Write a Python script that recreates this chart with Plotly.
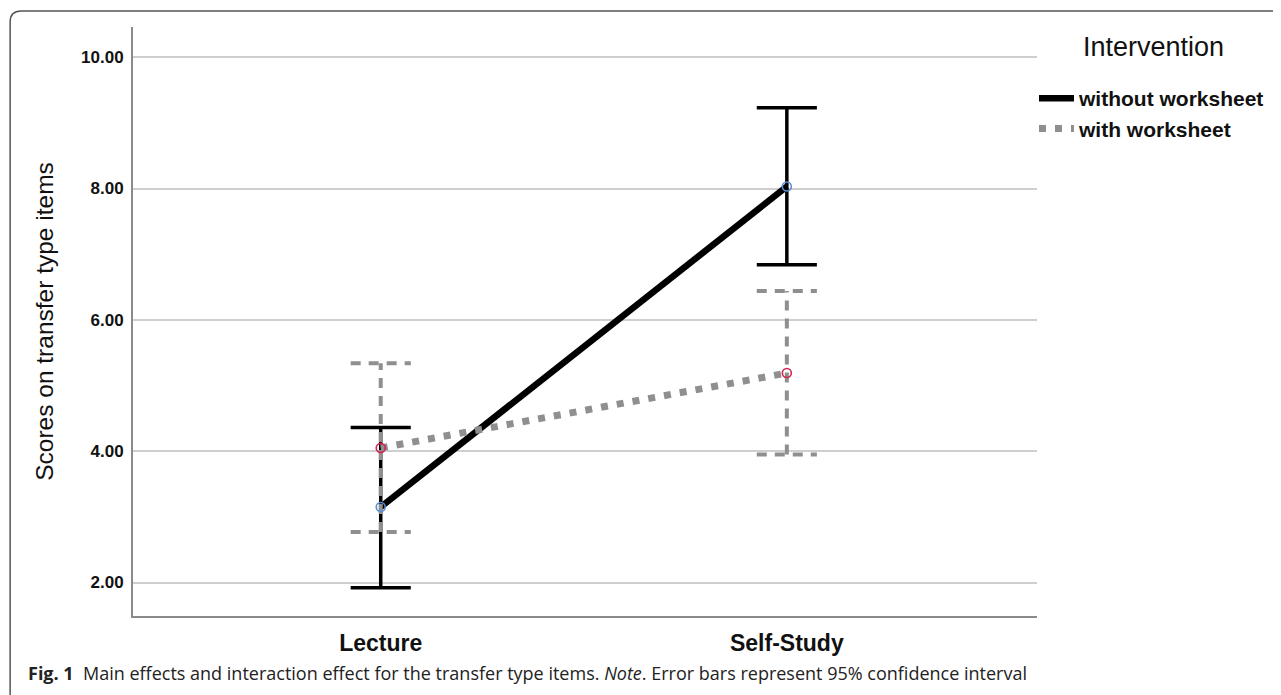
import plotly.graph_objects as go

# ---- data ----
categories = ["Lecture", "Self-Study"]
cat_pos = [0, 1]
series_names = ["without worksheet", "with worksheet"]
means_without = [3.15, 8.03]
upper_without = [4.36, 9.23]
lower_without = [1.92, 6.84]
means_with = [4.05, 5.19]
upper_with = [5.34, 6.44]
lower_with = [2.77, 3.95]
y_ticks = [2, 4, 6, 8, 10]
y_tick_labels = ["2.00", "4.00", "6.00", "8.00", "10.00"]

OFF = 8  # page body margin
W, H = 1281 - OFF, 695 - OFF
L, R, T, B = 133, 1038, 27, 616  # plot area in page pixels
CAP = 0.074  # half cap width in x units


def px(x):
    return (x - L) / (R - L)


def py(y):
    return (B - y) / (B - T)


fig = go.Figure()


def add_errbars(lo, hi, color, width, dash):
    xs, ys = [], []
    for xp, l, h in zip(cat_pos, lo, hi):
        xs += [xp, xp, None, xp - CAP, xp + CAP, None, xp - CAP, xp + CAP, None]
        ys += [l, h, None, h, h, None, l, l, None]
    fig.add_trace(go.Scatter(x=xs, y=ys, mode="lines", showlegend=False,
                             hoverinfo="skip",
                             line=dict(color=color, width=width, dash=dash)))


BLACK = "#000000"
GREY = "#8f8f8f"

add_errbars(lower_without, upper_without, BLACK, 3.5, "solid")
fig.add_trace(go.Scatter(x=cat_pos, y=means_without, mode="lines",
                         name="<b>" + series_names[0] + "</b>",
                         line=dict(color=BLACK, width=6.5)))
add_errbars(lower_with, upper_with, GREY, 4, "10px,8px")
fig.add_trace(go.Scatter(x=cat_pos, y=means_with, mode="lines",
                         name="<b>" + series_names[1] + "</b>",
                         line=dict(color=GREY, width=7, dash="7px,9px")))
# markers
fig.add_trace(go.Scatter(x=cat_pos, y=means_without, mode="markers", showlegend=False,
                         marker=dict(symbol="circle-open", size=9, color="#5b8fd4",
                                     line=dict(width=1.6, color="#5b8fd4"))))
fig.add_trace(go.Scatter(x=cat_pos, y=means_with, mode="markers", showlegend=False,
                         marker=dict(symbol="circle-open", size=9, color="#d42352",
                                     line=dict(width=1.6, color="#d42352"))))

# frame around the figure (rounded corners)
x0, y0, x1, y1, r = 10, 11, 1292, 720, 11
path = (f"M {px(x0)},{py(y1)} L {px(x0)},{py(y0 + r)} "
        f"Q {px(x0)},{py(y0)} {px(x0 + r)},{py(y0)} "
        f"L {px(x1 - r)},{py(y0)} Q {px(x1)},{py(y0)} {px(x1)},{py(y0 + r)} "
        f"L {px(x1)},{py(y1)}")
fig.add_shape(type="path", path=path, xref="paper", yref="paper",
              line=dict(color="#555555", width=1.5), layer="above")

# legend title
fig.add_annotation(text="Intervention", xref="paper", yref="paper",
                   x=px(1082), y=py(47), xanchor="left", yanchor="middle",
                   showarrow=False,
                   font=dict(family="Liberation Sans, Arial", size=27, color="#111111"))

# caption
fig.add_annotation(text="<b>Fig. 1</b>  Main effects and interaction effect for the transfer type items. "
                        "<i>Note</i>. Error bars represent 95% confidence interval",
                   xref="paper", yref="paper", x=px(26), y=py(673),
                   xanchor="left", yanchor="middle", showarrow=False,
                   font=dict(family="Open Sans", size=18, color="#222222"))

fig.update_layout(
    width=W, height=H, autosize=False,
    margin=dict(l=L - OFF, r=W - (R - OFF), t=T - OFF, b=H - (B - OFF), pad=0),
    paper_bgcolor="white", plot_bgcolor="white",
    font=dict(family="Liberation Sans, Arial", color="#111111"),
    showlegend=True,
    legend=dict(x=px(1034), y=py(78), xanchor="left", yanchor="top",
                bgcolor="rgba(0,0,0,0)", tracegroupgap=0,
                font=dict(family="Liberation Sans, Arial", size=21, color="#111111"),
                itemwidth=35),
    xaxis=dict(range=[-0.61, 1.616], tickvals=cat_pos, ticktext=[f"<b>{c}</b>" for c in categories],
               showgrid=False, zeroline=False, showline=True, linecolor="#8a8a8a", linewidth=2,
               ticks="", ticklabelstandoff=5,
               tickfont=dict(size=23, family="Liberation Sans, Arial", color="#111111")),
    yaxis=dict(range=[1.49, 10.46], tickvals=y_ticks, ticktext=[f"<b>{t}</b>" for t in y_tick_labels],
               showgrid=True, gridcolor="#cfcfcf", gridwidth=1.6, zeroline=False,
               showline=True, linecolor="#8a8a8a", linewidth=2, ticks="",
               ticklabelstandoff=4,
               tickfont=dict(size=17, family="Liberation Sans, Arial", color="#111111"),
               title=dict(text="Scores on transfer type items", standoff=20,
                          font=dict(size=24.5, family="Liberation Sans, Arial", color="#111111"))),
)

fig.write_html("out.html")
